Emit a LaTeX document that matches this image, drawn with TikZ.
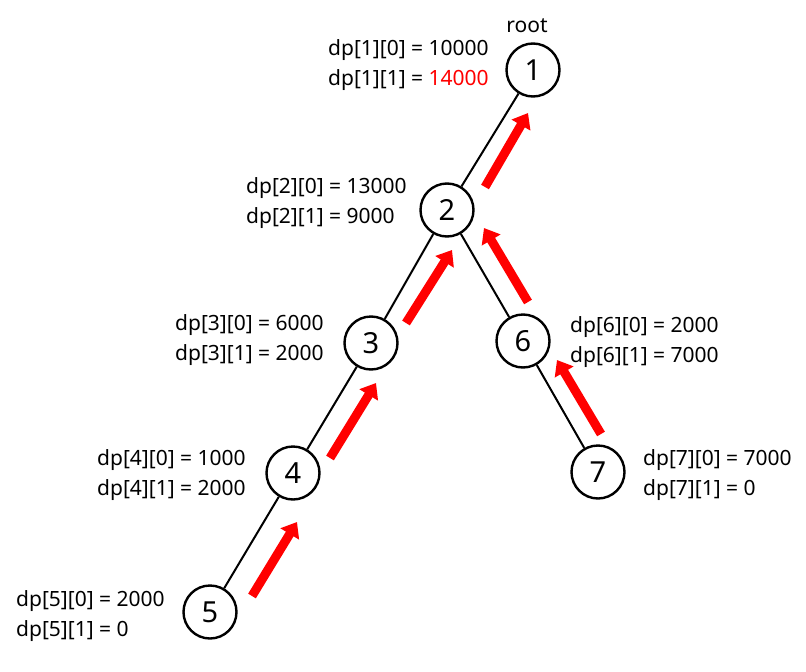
\documentclass[tikz,border=0pt]{standalone}
\usepackage{fontspec}
\setmainfont{Noto Sans}
\usetikzlibrary{arrows.meta}
\begin{document}
\begin{tikzpicture}[x=1pt,y=-1pt,
  vert/.style={circle,draw,line width=2.4pt,minimum size=53pt,inner sep=0pt,font=\fontsize{29}{32}\selectfont},
  edge/.style={line width=2pt},
  up/.style={draw=red,line width=9pt,-{Triangle[width=21pt,length=14pt]},red},
  lbl/.style={anchor=west,align=left,inner sep=0pt,font=\fontsize{21}{30}\selectfont}]
\useasboundingbox (0,0) rectangle (806,672);
\node[vert] (n1) at (533,70) {1};
\node[vert] (n2) at (447,210) {2};
\node[vert] (n3) at (371,343) {3};
\node[vert] (n6) at (523,341) {6};
\node[vert] (n4) at (293,473) {4};
\node[vert] (n7) at (598,472) {7};
\node[vert] (n5) at (210,612) {5};
\draw[edge] (n1) -- (n2);
\draw[edge] (n2) -- (n3);
\draw[edge] (n2) -- (n6);
\draw[edge] (n3) -- (n4);
\draw[edge] (n6) -- (n7);
\draw[edge] (n4) -- (n5);
\node[font=\fontsize{21}{30}\selectfont] (root) at (527,26) {root};
\node[lbl] (t1) at (328,65) {dp[1][0] = 10000\\dp[1][1] = \textcolor{red}{14000}};
\node[lbl] (t2) at (246,203) {dp[2][0] = 13000\\dp[2][1] = 9000};
\node[lbl] (t3) at (175,340) {dp[3][0] = 6000\\dp[3][1] = 2000};
\node[lbl] (t6) at (570,342) {dp[6][0] = 2000\\dp[6][1] = 7000};
\node[lbl] (t4) at (97,475) {dp[4][0] = 1000\\dp[4][1] = 2000};
\node[lbl] (t7) at (643,475) {dp[7][0] = 7000\\dp[7][1] = 0};
\node[lbl] (t5) at (16,616) {dp[5][0] = 2000\\dp[5][1] = 0};
\coordinate (a1s) at (485,187); \coordinate (a1e) at (528,113);
\coordinate (a2s) at (528,302); \coordinate (a2e) at (484,228);
\coordinate (a3s) at (406,323); \coordinate (a3e) at (452,250);
\coordinate (a4s) at (330,458); \coordinate (a4e) at (376,383);
\coordinate (a5s) at (252,596); \coordinate (a5e) at (297,522);
\coordinate (a6s) at (601,434); \coordinate (a6e) at (557,360);
\draw[up] (a1s) -- (a1e);
\draw[up] (a2s) -- (a2e);
\draw[up] (a3s) -- (a3e);
\draw[up] (a4s) -- (a4e);
\draw[up] (a5s) -- (a5e);
\draw[up] (a6s) -- (a6e);
\end{tikzpicture}
\end{document}
